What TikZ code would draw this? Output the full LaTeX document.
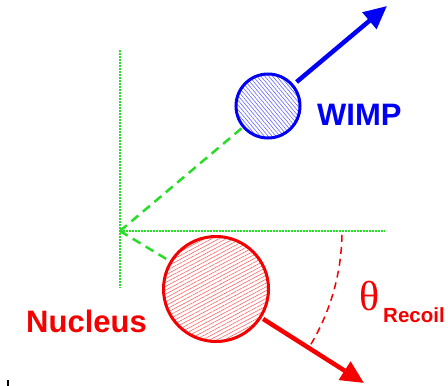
\documentclass[tikz,border=0pt]{standalone}
\usepackage{fontspec}
\usepackage{tikz}
\usetikzlibrary{arrows.meta,patterns.meta,calc}
\newfontfamily\labelfont{Liberation Sans}
\newfontfamily\greekfont{Liberation Serif}
\definecolor{wimpblue}{RGB}{0, 0, 245}
\definecolor{nucred}{RGB}{245, 0, 0}
\definecolor{axisgreen}{RGB}{40, 220, 40}

\begin{document}
\begin{tikzpicture}[x=1pt, y=-1pt, >={Triangle[length=23pt,width=21pt]}]
  \useasboundingbox (0,0) rectangle (448,386);

  % Reference axes
  \coordinate (origin) at (120,231);
  \coordinate (vtop) at (120,50);
  \coordinate (vbot) at (120,288);
  \coordinate (hend) at (385,231);
  \draw[axisgreen, line width=1.5pt, dash pattern=on 1.5pt off 1.5pt] (vtop) -- (vbot);
  \draw[axisgreen, line width=1.5pt, dash pattern=on 1.5pt off 1.5pt] (origin) -- (hend);

  % WIMP particle
  \node[circle, draw=wimpblue, line width=3pt, minimum size=64pt,
    pattern={Lines[angle=-50,distance=3pt,line width=0.6pt]},
    pattern color=wimpblue!60] (wimp) at (268,106) {};
  \node[anchor=base west, inner sep=0pt, wimpblue,
    font=\labelfont\bfseries\fontsize{31}{31}\selectfont] (wimplabel) at (317,125) {WIMP};

  % Recoiling nucleus
  \node[circle, draw=nucred, line width=3pt, minimum size=105pt,
    pattern={Lines[angle=28,distance=3.4pt,line width=0.6pt]},
    pattern color=nucred!60] (nucleus) at (216,289) {};
  \node[anchor=base west, inner sep=0pt, nucred,
    font=\labelfont\bfseries\fontsize{31}{31}\selectfont] (nuclabel) at (26,332) {Nucleus};

  % Paths towards the origin
  \draw[axisgreen, line width=2.5pt, dash pattern=on 9pt off 6pt] (origin) -- (wimp);
  \draw[axisgreen, line width=2.5pt, dash pattern=on 9pt off 6pt] (origin) -- (nucleus);

  % Outgoing momenta
  \coordinate (wimpend) at (387,6);
  \coordinate (nucend) at (364,383);
  \draw[->, wimpblue, line width=4.5pt, shorten <=5pt] (wimp) -- (wimpend);
  \draw[->, nucred, line width=4.5pt, shorten <=3pt] (nucleus) -- (nucend);

  % Recoil angle
  \draw[nucred, line width=1.5pt, dash pattern=on 7pt off 5pt]
    ($(origin)+(1:222)$) arc[start angle=1, end angle=31, radius=222];
  \node[anchor=base west, inner sep=0pt, nucred,
    font=\greekfont\fontsize{42}{42}\selectfont] (theta) at (359,310) {θ};
  \node[anchor=base west, inner sep=0pt, nucred,
    font=\labelfont\bfseries\fontsize{20.5}{21}\selectfont] (recoil) at (383,322) {Recoil};

  % Stray mark
  \draw[black, line width=2pt] (8,380) -- (8,386);
\end{tikzpicture}
\end{document}
